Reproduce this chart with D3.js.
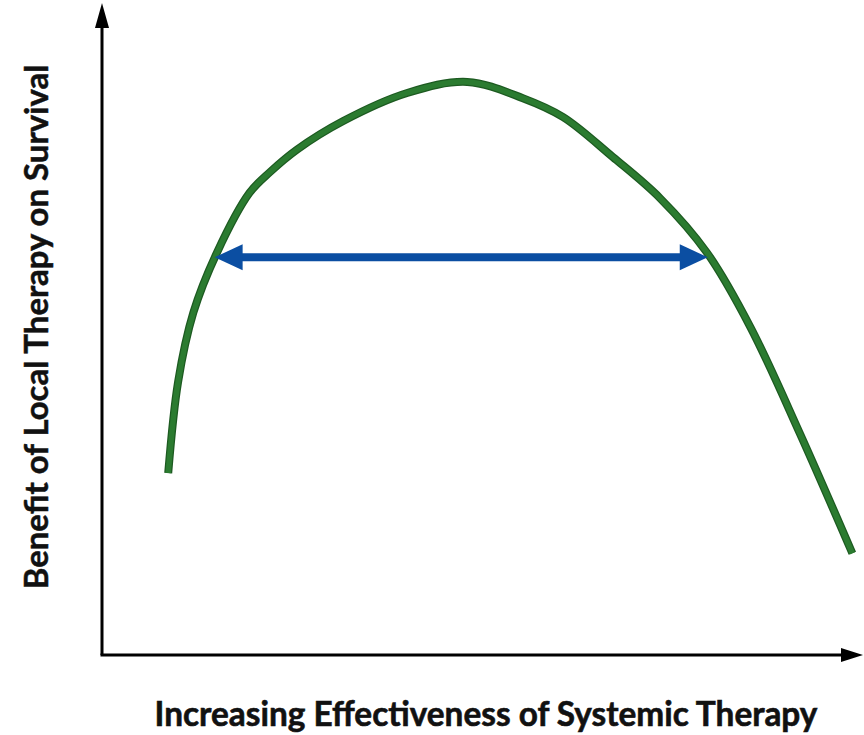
<!DOCTYPE html>
<html>
<head>
<meta charset="utf-8">
<script src="https://cdn.jsdelivr.net/npm/d3@7"></script>
<style>
  html, body { margin: 0; padding: 0; background: #fff; }
  svg { display: block; }
</style>
</head>
<body>
<div id="chart"></div>
<script>
// curve (x: effectiveness 0-100, y: benefit 0-100)
const curveX = [8.7, 10.0, 12.0, 15.1, 19.4, 22.1, 25.6, 31.7, 40.1, 48.0, 55.3, 60.6, 67.1, 73.3, 79.5, 85.2, 91.7, 98.6];
const curveY = [27.9, 41.9, 52.5, 61.7, 70.9, 74.1, 77.5, 81.9, 86.2, 87.9, 85.4, 82.5, 76.4, 70.1, 61.7, 50.3, 34.0, 15.6];

// double arrow spanning the range where local therapy helps
const rangeX = [14.8, 79.6];
const rangeY = 61.0;

const xLabel = 'Increasing Effectiveness of Systemic Therapy';
const yLabel = 'Benefit of Local Therapy on Survival';

const width = 864, height = 735;
const green = '#2b7b30', greenDark = '#1d5a21', blue = '#0b4ea2';

const svg = d3.select('#chart').append('svg')
  .attr('width', width)
  .attr('height', height);

const x = d3.scaleLinear().domain([0, 100]).range([102, 863]);
const y = d3.scaleLinear().domain([0, 100]).range([655, 3]);

// axes with arrow heads
const axisG = svg.append('g');
axisG.append('line')
  .attr('x1', x(0)).attr('y1', y(0))
  .attr('x2', x(0)).attr('y2', y(100) + 20)
  .attr('stroke', '#000').attr('stroke-width', 3);
axisG.append('path')
  .attr('d', `M${x(0)},${y(100)} L${x(0) - 7},${y(100) + 25} L${x(0) + 7},${y(100) + 25}Z`)
  .attr('fill', '#000');
axisG.append('line')
  .attr('x1', x(0) - 1.5).attr('y1', y(0))
  .attr('x2', x(100) - 18).attr('y2', y(0))
  .attr('stroke', '#000').attr('stroke-width', 3);
axisG.append('path')
  .attr('d', `M${x(100)},${y(0)} L${x(100) - 22},${y(0) - 7} L${x(100) - 22},${y(0) + 7}Z`)
  .attr('fill', '#000');

// the benefit curve
const pts = curveX.map((d, i) => [d, curveY[i]]);
const line = d3.line()
  .x(d => x(d[0]))
  .y(d => y(d[1]))
  .curve(d3.curveCatmullRom.alpha(0.5));

svg.append('path')
  .attr('d', line(pts))
  .attr('fill', 'none')
  .attr('stroke', greenDark)
  .attr('stroke-width', 8);
svg.append('path')
  .attr('d', line(pts))
  .attr('fill', 'none')
  .attr('stroke', green)
  .attr('stroke-width', 5.5);

// double headed arrow
const ax0 = x(rangeX[0]), ax1 = x(rangeX[1]), ay = y(rangeY);
const headLen = 28, headHalf = 13;
svg.append('line')
  .attr('x1', ax0 + headLen - 2).attr('y1', ay)
  .attr('x2', ax1 - headLen + 2).attr('y2', ay)
  .attr('stroke', blue).attr('stroke-width', 8);
svg.append('path')
  .attr('d', `M${ax0},${ay} L${ax0 + headLen},${ay - headHalf} L${ax0 + headLen},${ay + headHalf}Z`)
  .attr('fill', blue);
svg.append('path')
  .attr('d', `M${ax1},${ay} L${ax1 - headLen},${ay - headHalf} L${ax1 - headLen},${ay + headHalf}Z`)
  .attr('fill', blue);

// labels, sized to the span they take in the picture
function fitText(sel, target) {
  const len = sel.node().getComputedTextLength();
  const fs = parseFloat(sel.attr('font-size'));
  sel.attr('font-size', fs * target / len);
}

const xl = svg.append('text')
  .attr('x', 486)
  .attr('y', 726)
  .attr('text-anchor', 'middle')
  .attr('font-family', 'Lato, "Open Sans", sans-serif')
  .attr('font-weight', 'bold')
  .attr('font-size', 32)
  .attr('fill', '#111')
  .attr('stroke', '#111')
  .attr('stroke-width', 0.6)
  .text(xLabel);
fitText(xl, 663);

const yl = svg.append('text')
  .attr('transform', 'translate(48,327) rotate(-90)')
  .attr('text-anchor', 'middle')
  .attr('font-family', 'Lato, "Open Sans", sans-serif')
  .attr('font-weight', 'bold')
  .attr('font-size', 26)
  .attr('fill', '#111')
  .attr('stroke', '#111')
  .attr('stroke-width', 0.5)
  .text(yLabel);
fitText(yl, 525);
</script>
</body>
</html>
